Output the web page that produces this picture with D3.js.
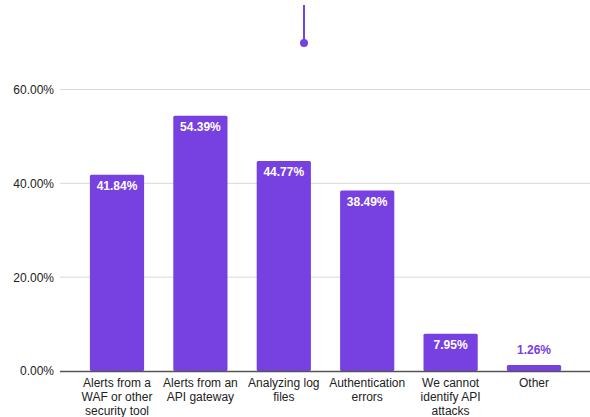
<!DOCTYPE html>
<html><head><meta charset="utf-8">
<script src="https://cdn.jsdelivr.net/npm/d3@7"></script>
<style>body{margin:0;background:#fff}svg{display:block}</style>
</head><body>
<script>
const categories = [
  ["Alerts from a","WAF or other","security tool"],
  ["Alerts from an","API gateway"],
  ["Analyzing log","files"],
  ["Authentication","errors"],
  ["We cannot","identify API","attacks"],
  ["Other"]
];
const values = [41.84, 54.39, 44.77, 38.49, 7.95, 1.26];
const yTicks = [0, 20, 40, 60];

const W = 590, H = 417;
const color = "#7740e0";
const svg = d3.select("body").append("svg").attr("width", W).attr("height", H);

const x = d3.scaleBand().domain(d3.range(values.length)).range([75.3, 575.7]).paddingInner(0.35).paddingOuter(0.175);
const y = d3.scaleLinear().domain([0, 60]).range([371, 89.5]);

// gridlines
svg.append("g").selectAll("line").data(yTicks.filter(d => d > 0)).join("line")
  .attr("x1", 60).attr("x2", W).attr("y1", d => y(d)).attr("y2", d => y(d))
  .attr("stroke", "#d9d9d9").attr("stroke-width", 1);

// y axis labels
const yAxis = d3.axisLeft(y).tickValues(yTicks).tickSize(0).tickPadding(0).tickFormat(d => d.toFixed(2) + "%");
const ga = svg.append("g").attr("transform", "translate(54,0)").call(yAxis);
ga.select(".domain").remove();
ga.selectAll("text").attr("font-family", "Liberation Sans, Arial, sans-serif").attr("font-size", 12).attr("fill", "#222");

// bars
svg.append("g").selectAll("rect").data(values).join("rect")
  .attr("x", (d, i) => x(i)).attr("width", x.bandwidth())
  .attr("y", d => y(d)).attr("height", d => y(0) - y(d))
  .attr("fill", color).attr("rx", 1.5);

// baseline
svg.append("line").attr("x1", 60).attr("x2", W).attr("y1", y(0) + 0.5).attr("y2", y(0) + 0.5)
  .attr("stroke", "#555").attr("stroke-width", 1.3);

// value labels
svg.append("g").selectAll("text").data(values).join("text")
  .attr("x", (d, i) => x(i) + x.bandwidth() / 2)
  .attr("y", d => (y(0) - y(d) > 20) ? y(d) + 15.5 : y(d) - 11)
  .attr("text-anchor", "middle")
  .attr("font-family", "Liberation Sans, Arial, sans-serif").attr("font-size", 12).attr("font-weight", "bold")
  .attr("fill", d => (y(0) - y(d) > 20) ? "#fff" : color)
  .text(d => d.toFixed(2) + "%");

// category labels
const cg = svg.append("g");
categories.forEach((lines, i) => {
  const t = cg.append("text").attr("text-anchor", "middle")
    .attr("font-family", "Liberation Sans, Arial, sans-serif").attr("font-size", 12).attr("fill", "#222");
  lines.forEach((l, j) => t.append("tspan").attr("x", x(i) + x.bandwidth() / 2).attr("y", 387 + j * 13.8).text(l));
});

// marker at top
svg.append("line").attr("x1", 304).attr("x2", 304).attr("y1", 5).attr("y2", 43).attr("stroke", color).attr("stroke-width", 2);
svg.append("circle").attr("cx", 304).attr("cy", 43).attr("r", 4).attr("fill", color);
</script>
</body></html>
